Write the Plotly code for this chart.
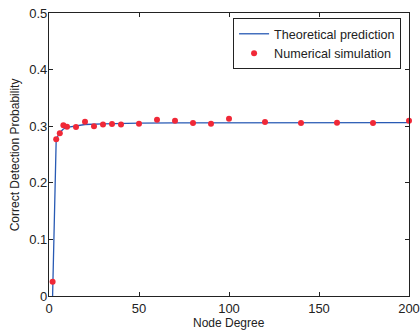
import plotly.graph_objects as go

# Theoretical prediction (line)
theory_x = [2, 4, 6, 8, 10, 15, 20, 30, 40, 50, 70, 100, 150, 200]
theory_y = [0.0, 0.277, 0.289, 0.295, 0.298, 0.301, 0.303, 0.304, 0.305, 0.3055, 0.306, 0.306, 0.3062, 0.3063]

# Numerical simulation (markers)
sim_x = [2, 4, 6, 8, 10, 15, 20, 25, 30, 35, 40, 50, 60, 70, 80, 90, 100, 120, 140, 160, 180, 200]
sim_y = [0.025, 0.277, 0.2875, 0.3016, 0.299, 0.2986, 0.308, 0.300, 0.303, 0.304, 0.303,
         0.3045, 0.3115, 0.3098, 0.3057, 0.3045, 0.3133, 0.3074, 0.3057, 0.3063, 0.3057, 0.3098]

x_ticks = [0, 50, 100, 150, 200]
y_ticks = [0, 0.1, 0.2, 0.3, 0.4, 0.5]
y_tick_labels = ["0", "0.1", "0.2", "0.3", "0.4", "0.5"]

fig = go.Figure()
fig.add_trace(go.Scatter(x=theory_x, y=theory_y, mode="lines", name="Theoretical prediction",
                         line=dict(color="rgb(40,90,180)", width=1.3), cliponaxis=True))
fig.add_trace(go.Scatter(x=sim_x, y=sim_y, mode="markers", name="Numerical simulation",
                         marker=dict(color="rgb(240,40,55)", size=6), cliponaxis=False))

font = "Liberation Sans, Arial, Helvetica, sans-serif"
dark = "#222"
fig.update_layout(
    width=420, height=331,
    margin=dict(l=49, r=11, t=13, b=35),
    paper_bgcolor="white", plot_bgcolor="white",
    font=dict(family=font, size=12, color=dark),
    showlegend=True,
    legend=dict(x=0.978, y=0.982, xanchor="right", yanchor="top",
                bordercolor=dark, borderwidth=1, bgcolor="white",
                font=dict(size=12.6, family=font, color=dark),
                tracegroupgap=0, itemwidth=30),
    xaxis=dict(range=[0, 200], tickvals=x_ticks, ticks="inside", ticklen=4,
               tickcolor=dark, showgrid=False, zeroline=False, automargin=False,
               showline=True, linecolor=dark, linewidth=1.3, mirror="ticks",
               tickfont=dict(size=13, color=dark)),
    yaxis=dict(range=[0, 0.5], tickvals=y_ticks, ticktext=y_tick_labels, ticks="inside", ticklen=4,
               tickcolor=dark, showgrid=False, zeroline=False, automargin=False,
               showline=True, linecolor=dark, linewidth=1.3, mirror="ticks",
               ticklabelstandoff=-2,
               tickfont=dict(size=13, color=dark)),
    annotations=[
        dict(text="Node Degree", xref="paper", yref="paper", x=0.5, y=-0.095,
             xanchor="center", yanchor="middle", showarrow=False,
             font=dict(size=12, color=dark)),
        dict(text="Correct Detection Probability", xref="paper", yref="paper", x=-0.095, y=0.5,
             xanchor="center", yanchor="middle", showarrow=False, textangle=-90,
             font=dict(size=12, color=dark)),
    ],
)

fig.write_html("out.html", config={"displayModeBar": False},
               post_script="document.body.style.margin='0';document.body.style.overflow='hidden';")
